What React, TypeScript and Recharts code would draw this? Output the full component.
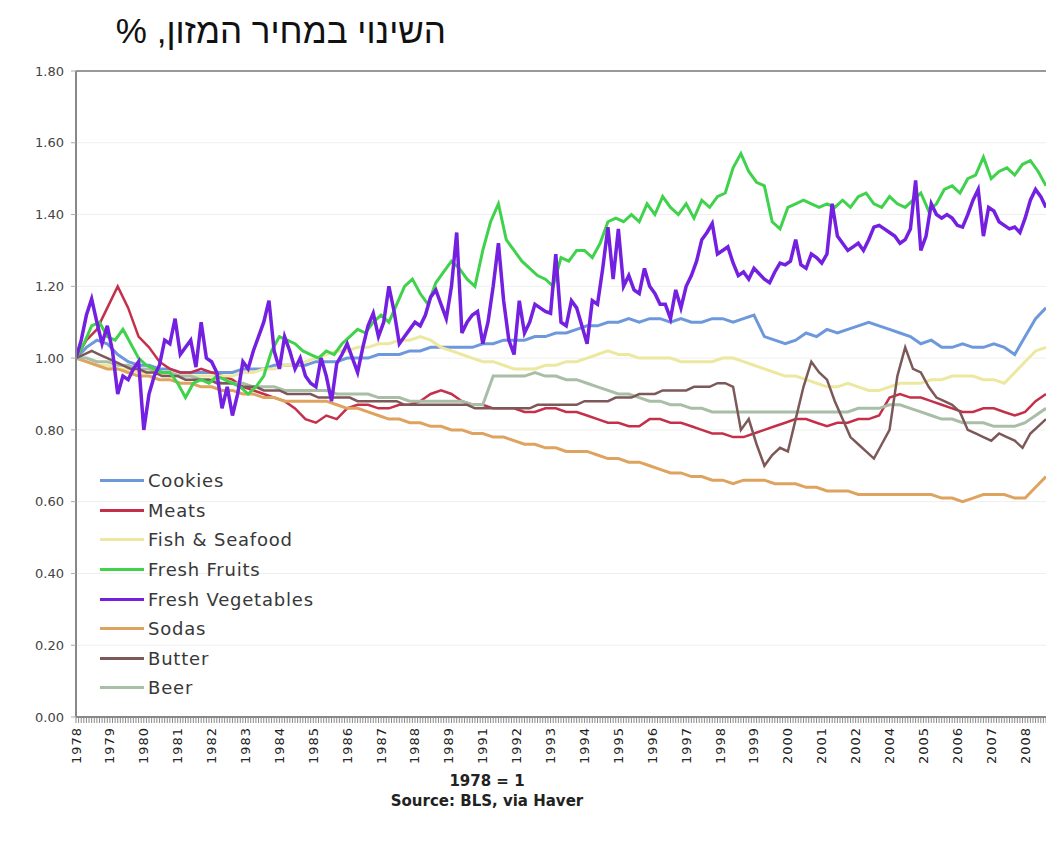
import React from 'react';
import { LineChart, Line, XAxis, YAxis, CartesianGrid, Legend, ReferenceLine } from 'recharts';

// תוויות השנים על ציר ה-X (תווית כל 13 חודשים, לכן 1990 ו-2003 חסרות)
const yearLabels = [
  '1978', '1979', '1980', '1981', '1982', '1983', '1984', '1985', '1986', '1987',
  '1988', '1989', '1991', '1992', '1993', '1994', '1995', '1996', '1997', '1998',
  '1999', '2000', '2001', '2002', '2004', '2005', '2006', '2007', '2008',
];
const yTicks = [0, 0.2, 0.4, 0.6, 0.8, 1.0, 1.2, 1.4, 1.6, 1.8];

// 1978 = 1, every 4 months from Jan 1978
const cookies = [
  1.00, 1.03, 1.05, 1.04, 1.01, 0.99, 0.98, 0.98, 0.97, 0.97, 0.96, 0.96,
  0.96, 0.96, 0.96, 0.96, 0.97, 0.97, 0.97, 0.98, 0.98, 0.98, 0.98, 0.99,
  0.99, 0.99, 1.00, 1.00, 1.00, 1.01, 1.01, 1.01, 1.02, 1.02, 1.03, 1.03,
  1.03, 1.03, 1.03, 1.04, 1.04, 1.05, 1.05, 1.05, 1.06, 1.06, 1.07, 1.07,
  1.08, 1.09, 1.09, 1.10, 1.10, 1.11, 1.10, 1.11, 1.11, 1.10, 1.11, 1.10,
  1.10, 1.11, 1.11, 1.10, 1.11, 1.12, 1.06, 1.05, 1.04, 1.05, 1.07, 1.06,
  1.08, 1.07, 1.08, 1.09, 1.10, 1.09, 1.08, 1.07, 1.06, 1.04, 1.05, 1.03,
  1.03, 1.04, 1.03, 1.03, 1.04, 1.03, 1.01, 1.06, 1.11, 1.14,
];

const meats = [
  1.00, 1.05, 1.08, 1.14, 1.20, 1.14, 1.06, 1.03, 0.99, 0.97, 0.96, 0.96,
  0.97, 0.96, 0.95, 0.94, 0.92, 0.91, 0.90, 0.89, 0.88, 0.86, 0.83, 0.82,
  0.84, 0.83, 0.86, 0.87, 0.87, 0.86, 0.86, 0.87, 0.87, 0.88, 0.90, 0.91,
  0.90, 0.88, 0.87, 0.87, 0.86, 0.86, 0.86, 0.85, 0.85, 0.86, 0.86, 0.85,
  0.85, 0.84, 0.83, 0.82, 0.82, 0.81, 0.81, 0.83, 0.83, 0.82, 0.82, 0.81,
  0.80, 0.79, 0.79, 0.78, 0.78, 0.79, 0.80, 0.81, 0.82, 0.83, 0.83, 0.82,
  0.81, 0.82, 0.82, 0.83, 0.83, 0.84, 0.89, 0.90, 0.89, 0.89, 0.88, 0.87,
  0.86, 0.85, 0.85, 0.86, 0.86, 0.85, 0.84, 0.85, 0.88, 0.90,
];

const fishSeafood = [
  1.00, 0.99, 0.98, 0.98, 0.97, 0.97, 0.96, 0.96, 0.96, 0.95, 0.95, 0.95,
  0.95, 0.95, 0.95, 0.95, 0.96, 0.96, 0.97, 0.97, 0.98, 0.98, 0.99, 1.00,
  1.01, 1.02, 1.02, 1.03, 1.03, 1.04, 1.04, 1.05, 1.05, 1.06, 1.05, 1.03,
  1.02, 1.01, 1.00, 0.99, 0.99, 0.98, 0.97, 0.97, 0.97, 0.98, 0.98, 0.99,
  0.99, 1.00, 1.01, 1.02, 1.01, 1.01, 1.00, 1.00, 1.00, 1.00, 0.99, 0.99,
  0.99, 0.99, 1.00, 1.00, 0.99, 0.98, 0.97, 0.96, 0.95, 0.95, 0.94, 0.93,
  0.92, 0.92, 0.93, 0.92, 0.91, 0.91, 0.92, 0.93, 0.93, 0.93, 0.94, 0.94,
  0.95, 0.95, 0.95, 0.94, 0.94, 0.93, 0.96, 0.99, 1.02, 1.03,
];

const sodas = [
  1.00, 0.99, 0.98, 0.97, 0.97, 0.96, 0.95, 0.95, 0.94, 0.94, 0.93, 0.93,
  0.92, 0.92, 0.91, 0.91, 0.90, 0.90, 0.89, 0.89, 0.88, 0.88, 0.88, 0.88,
  0.88, 0.87, 0.86, 0.86, 0.85, 0.84, 0.83, 0.83, 0.82, 0.82, 0.81, 0.81,
  0.80, 0.80, 0.79, 0.79, 0.78, 0.78, 0.77, 0.76, 0.76, 0.75, 0.75, 0.74,
  0.74, 0.74, 0.73, 0.72, 0.72, 0.71, 0.71, 0.70, 0.69, 0.68, 0.68, 0.67,
  0.67, 0.66, 0.66, 0.65, 0.66, 0.66, 0.66, 0.65, 0.65, 0.65, 0.64, 0.64,
  0.63, 0.63, 0.63, 0.62, 0.62, 0.62, 0.62, 0.62, 0.62, 0.62, 0.62, 0.61,
  0.61, 0.60, 0.61, 0.62, 0.62, 0.62, 0.61, 0.61, 0.64, 0.67,
];

const beer = [
  1.00, 1.00, 0.99, 0.99, 0.98, 0.98, 0.97, 0.97, 0.96, 0.96, 0.95, 0.95,
  0.94, 0.94, 0.93, 0.93, 0.93, 0.92, 0.92, 0.92, 0.91, 0.91, 0.91, 0.91,
  0.91, 0.90, 0.90, 0.90, 0.90, 0.89, 0.89, 0.89, 0.88, 0.88, 0.88, 0.88,
  0.88, 0.88, 0.87, 0.87, 0.95, 0.95, 0.95, 0.95, 0.96, 0.95, 0.95, 0.94,
  0.94, 0.93, 0.92, 0.91, 0.90, 0.90, 0.89, 0.88, 0.88, 0.87, 0.87, 0.86,
  0.86, 0.85, 0.85, 0.85, 0.85, 0.85, 0.85, 0.85, 0.85, 0.85, 0.85, 0.85,
  0.85, 0.85, 0.85, 0.86, 0.86, 0.86, 0.87, 0.87, 0.86, 0.85, 0.84, 0.83,
  0.83, 0.82, 0.82, 0.82, 0.81, 0.81, 0.81, 0.82, 0.84, 0.86,
];

// every 3 months from Jan 1978
const butter = [
  1.00, 1.01, 1.02, 1.01, 1.00, 0.99, 0.98, 0.97, 0.97, 0.96, 0.96, 0.95,
  0.95, 0.95, 0.94, 0.94, 0.94, 0.94, 0.93, 0.93, 0.93, 0.92, 0.92, 0.92,
  0.91, 0.91, 0.91, 0.90, 0.90, 0.90, 0.90, 0.89, 0.89, 0.89, 0.89, 0.89,
  0.88, 0.88, 0.88, 0.88, 0.88, 0.88, 0.87, 0.87, 0.87, 0.87, 0.87, 0.87,
  0.87, 0.87, 0.87, 0.86, 0.86, 0.86, 0.86, 0.86, 0.86, 0.86, 0.86, 0.87,
  0.87, 0.87, 0.87, 0.87, 0.87, 0.88, 0.88, 0.88, 0.88, 0.89, 0.89, 0.89,
  0.90, 0.90, 0.90, 0.91, 0.91, 0.91, 0.91, 0.92, 0.92, 0.92, 0.93, 0.93,
  0.92, 0.80, 0.83, 0.76, 0.70, 0.73, 0.75, 0.74, 0.83, 0.92, 0.99, 0.96,
  0.94, 0.88, 0.83, 0.78, 0.76, 0.74, 0.72, 0.76, 0.80, 0.95, 1.03, 0.97,
  0.96, 0.92, 0.89, 0.88, 0.87, 0.85, 0.80, 0.79, 0.78, 0.77, 0.79, 0.78,
  0.77, 0.75, 0.79, 0.81, 0.83,
];

const freshFruits = [
  1.00, 1.04, 1.09, 1.10, 1.06, 1.05, 1.08, 1.04, 1.00, 0.98, 0.97, 0.96,
  0.96, 0.93, 0.89, 0.93, 0.94, 0.93, 0.95, 0.94, 0.93, 0.92, 0.90, 0.92,
  0.95, 1.02, 1.06, 1.05, 1.04, 1.02, 1.01, 1.00, 1.02, 1.01, 1.04, 1.06,
  1.08, 1.07, 1.10, 1.12, 1.10, 1.15, 1.20, 1.22, 1.18, 1.15, 1.21, 1.24,
  1.27, 1.25, 1.22, 1.20, 1.30, 1.38, 1.43, 1.33, 1.30, 1.27, 1.25, 1.23,
  1.22, 1.20, 1.28, 1.27, 1.30, 1.30, 1.28, 1.32, 1.38, 1.39, 1.38, 1.40,
  1.38, 1.43, 1.40, 1.45, 1.42, 1.40, 1.43, 1.39, 1.44, 1.42, 1.45, 1.46,
  1.53, 1.57, 1.52, 1.49, 1.48, 1.38, 1.36, 1.42, 1.43, 1.44, 1.43, 1.42,
  1.43, 1.42, 1.44, 1.42, 1.45, 1.46, 1.43, 1.42, 1.45, 1.43, 1.42, 1.44,
  1.46, 1.41, 1.43, 1.47, 1.48, 1.46, 1.50, 1.51, 1.56, 1.50, 1.52, 1.53,
  1.51, 1.54, 1.55, 1.52, 1.48,
];

// every 2 months from Jan 1978
const freshVegetables = [
  1.00, 1.05, 1.12, 1.165, 1.10, 1.04, 1.09, 1.02, 0.90, 0.95,
  0.94, 0.97, 0.99, 0.80, 0.90, 0.95, 0.98, 1.05, 1.04, 1.11,
  1.01, 1.03, 1.05, 0.975, 1.10, 1.00, 0.99, 0.96, 0.86, 0.92,
  0.84, 0.90, 0.99, 0.97, 1.02, 1.06, 1.10, 1.16, 1.02, 0.97,
  1.06, 1.02, 0.97, 1.00, 0.95, 0.93, 0.92, 1.00, 0.95, 0.88,
  0.985, 1.01, 1.04, 1.00, 0.96, 1.03, 1.09, 1.125, 1.06, 1.10,
  1.20, 1.13, 1.04, 1.06, 1.08, 1.10, 1.09, 1.12, 1.17, 1.19,
  1.15, 1.11, 1.20, 1.35, 1.07, 1.10, 1.12, 1.13, 1.04, 1.10,
  1.20, 1.32, 1.16, 1.05, 1.01, 1.16, 1.07, 1.10, 1.15, 1.14,
  1.13, 1.125, 1.29, 1.10, 1.09, 1.16, 1.14, 1.09, 1.04, 1.16,
  1.15, 1.25, 1.365, 1.22, 1.36, 1.20, 1.23, 1.19, 1.18, 1.25,
  1.20, 1.18, 1.15, 1.15, 1.11, 1.19, 1.14, 1.20, 1.23, 1.27,
  1.33, 1.35, 1.375, 1.29, 1.30, 1.31, 1.265, 1.23, 1.24, 1.22,
  1.25, 1.235, 1.22, 1.21, 1.24, 1.265, 1.26, 1.27, 1.33, 1.26,
  1.25, 1.29, 1.28, 1.265, 1.29, 1.43, 1.34, 1.32, 1.30, 1.31,
  1.32, 1.30, 1.33, 1.365, 1.37, 1.36, 1.35, 1.34, 1.32, 1.33,
  1.36, 1.495, 1.30, 1.34, 1.43, 1.40, 1.39, 1.40, 1.39, 1.37,
  1.365, 1.40, 1.44, 1.47, 1.34, 1.42, 1.41, 1.38, 1.37, 1.36,
  1.365, 1.35, 1.39, 1.44, 1.47, 1.45, 1.42,
];

const LAST_MONTH = 372;
const LABEL_EVERY = 13;
const labelMonths = yearLabels.map((_, i) => i * LABEL_EVERY);
const monthTicks = Array.from({ length: LAST_MONTH + 1 }, (_, i) => i);

const toPoints = (values: number[], step: number) =>
  values.map((v, i) => ({ month: i * step, value: v }));

// סדר הציור (האחרון מעל)
const series = [
  { name: 'Cookies', values: cookies, step: 4, color: '#6e98dc', width: 3 },
  { name: 'Meats', values: meats, step: 4, color: '#c4304a', width: 2.5 },
  { name: 'Fish & Seafood', values: fishSeafood, step: 4, color: '#ece8a0', width: 3 },
  { name: 'Sodas', values: sodas, step: 4, color: '#dea35e', width: 3 },
  { name: 'Beer', values: beer, step: 4, color: '#a8bea6', width: 3 },
  { name: 'Butter', values: butter, step: 3, color: '#7d5858', width: 2.5 },
  { name: 'Fresh Fruits', values: freshFruits, step: 3, color: '#40d24c', width: 3 },
  { name: 'Fresh Vegetables', values: freshVegetables, step: 2, color: '#7420e0', width: 3.5 },
];

const legendOrder = ['Cookies', 'Meats', 'Fish & Seafood', 'Fresh Fruits', 'Fresh Vegetables', 'Sodas', 'Butter', 'Beer'];

const XTick = ({ x, y, payload }: any) => {
  const idx = labelMonths.indexOf(payload.value);
  if (idx < 0) return <g />;
  const ty = y + 2;
  return (
    <text
      x={x}
      y={ty}
      transform={`rotate(-90 ${x} ${ty})`}
      textAnchor="end"
      dominantBaseline="central"
      fontSize={13}
      letterSpacing={1}
      fill="#222"
      fontFamily="'DejaVu Sans', Verdana, sans-serif"
    >
      {yearLabels[idx]}
    </text>
  );
};

const renderLegend = () => (
  <div style={{ fontFamily: "'DejaVu Sans', Verdana, sans-serif", fontSize: 18, color: '#383838' }}>
    {legendOrder.map((name) => {
      const s = series.find((it) => it.name === name)!;
      return (
        <div key={name} style={{ display: 'flex', alignItems: 'center', height: 29.6 }}>
          <span style={{ display: 'inline-block', width: 44, height: 3, background: s.color, marginRight: 4 }} />
          <span style={{ letterSpacing: 0.8 }}>{name}</span>
        </div>
      );
    })}
  </div>
);

export default function App() {
  return (
    <div style={{ position: 'absolute', left: 0, top: 0, width: 1046, height: 841, background: '#fff', overflow: 'hidden' }}>
      <div
        style={{
          position: 'absolute',
          right: 1046 - 446,
          top: 9,
          direction: 'rtl',
          whiteSpace: 'nowrap',
          fontFamily: "Arial, 'Liberation Sans', 'DejaVu Sans', sans-serif",
          fontSize: 35,
          lineHeight: '44px',
          color: '#111',
        }}
      >
        השינוי במחיר המזון, %
      </div>
      <LineChart width={1046} height={841} margin={{ top: 71, right: 0, left: 16, bottom: 60 }}>
        <CartesianGrid vertical={false} stroke="#efefef" />
        <XAxis
          type="number"
          dataKey="month"
          domain={[0, LAST_MONTH]}
          ticks={monthTicks}
          interval={0}
          tick={<XTick />}
          tickSize={6}
          tickLine={{ stroke: '#8a8a8a' }}
          axisLine={{ stroke: '#888', strokeWidth: 2 }}
          height={64}
          allowDataOverflow
        />
        <YAxis
          type="number"
          domain={[0, 1.8]}
          ticks={yTicks}
          interval={0}
          width={60}
          tickSize={5}
          tickMargin={7}
          tickFormatter={(v: number) => v.toFixed(2)}
          tick={{ fill: '#444', fontSize: 13, fontFamily: "'DejaVu Sans', Verdana, sans-serif" }}
          tickLine={{ stroke: '#aaa' }}
          axisLine={{ stroke: '#888', strokeWidth: 2 }}
        />
        <ReferenceLine y={1.8} stroke="#999" strokeWidth={2} />
        {series.map((s) => (
          <Line
            key={s.name}
            name={s.name}
            data={toPoints(s.values, s.step)}
            dataKey="value"
            type="linear"
            stroke={s.color}
            strokeWidth={s.width}
            dot={false}
            activeDot={false}
            isAnimationActive={false}
          />
        ))}
        <Legend
          layout="vertical"
          align="center"
          verticalAlign="middle"
          content={renderLegend}
          wrapperStyle={{ left: 100, top: 466, width: 280 }}
        />
      </LineChart>
      <div
        style={{
          position: 'absolute',
          left: 0,
          width: 974,
          top: 771,
          textAlign: 'center',
          fontFamily: "'DejaVu Sans', Verdana, sans-serif",
          fontWeight: 'bold',
          fontSize: 15,
          color: '#222',
          lineHeight: '20px',
        }}
      >
        <div>1978 = 1</div>
        <div>Source: BLS, via Haver</div>
      </div>
    </div>
  );
}
